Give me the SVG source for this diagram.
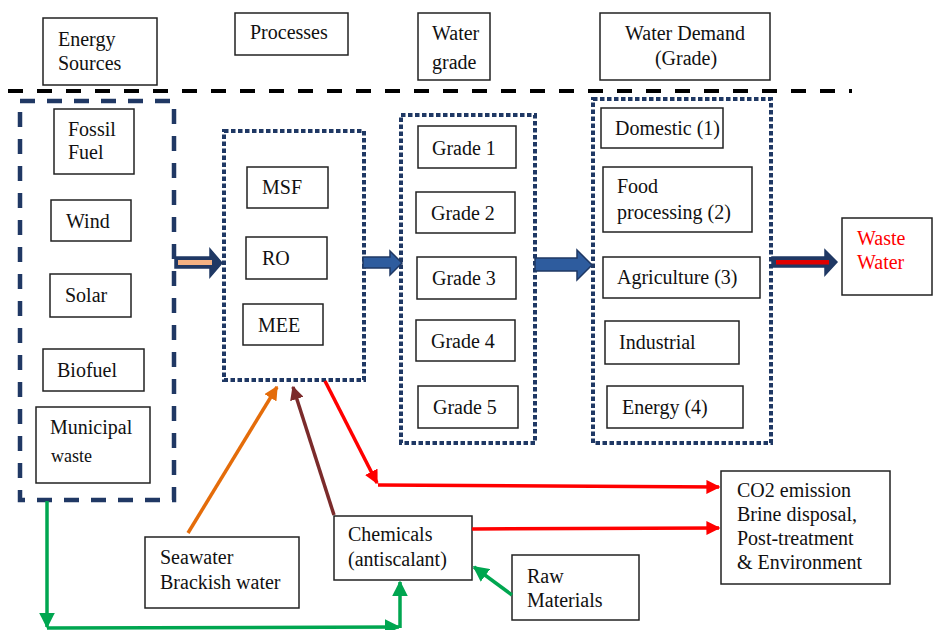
<svg xmlns="http://www.w3.org/2000/svg" width="936" height="630" viewBox="0 0 936 630" font-family="'Liberation Serif', 'Times New Roman', 'DejaVu Serif', serif">
<style>
text{font-family:'Liberation Serif','Times New Roman',Tinos,'DejaVu Serif',serif;font-size:20px;fill:#111}
.b{fill:#fff;stroke:#222;stroke-width:1.5}
.dot{fill:none;stroke:#1F3864;stroke-width:4;stroke-dasharray:4.5 2.5}
.ln{fill:none;stroke-width:3.5}
</style>
<defs>
<marker id="mr" viewBox="0 0 10 10" refX="9" refY="5" markerWidth="4" markerHeight="4" orient="auto"><path d="M0,0 L10,5 L0,10 z" fill="#FF0000"/></marker>
<marker id="mg" viewBox="0 0 10 10" refX="9" refY="5" markerWidth="4.5" markerHeight="4.5" orient="auto"><path d="M0,0 L10,5 L0,10 z" fill="#00A650"/></marker>
<marker id="mo" viewBox="0 0 10 10" refX="9" refY="5" markerWidth="4" markerHeight="4" orient="auto"><path d="M0,0 L10,5 L0,10 z" fill="#E46C0A"/></marker>
<marker id="mb" viewBox="0 0 10 10" refX="9" refY="5" markerWidth="4" markerHeight="4" orient="auto"><path d="M0,0 L10,5 L0,10 z" fill="#7B2B2B"/></marker>
</defs>
<rect width="936" height="630" fill="#fff"/>

<!-- header -->
<g id="h-energy"><rect class="b" x="43" y="18" width="114" height="67"/><text x="58" y="46">Energy</text><text x="58" y="70">Sources</text></g>
<g id="h-processes"><rect class="b" x="235" y="13" width="113" height="42"/><text x="250" y="39">Processes</text></g>
<g id="h-grade"><rect class="b" x="418" y="13" width="72" height="67"/><text x="432" y="40">Water</text><text x="432" y="69">grade</text></g>
<g id="h-demand"><rect class="b" x="600" y="13" width="170" height="67"/><text x="685" y="40" text-anchor="middle">Water Demand</text><text x="686" y="65" text-anchor="middle">(Grade)</text></g>
<line x1="8" y1="91" x2="852" y2="91" stroke="#000" stroke-width="4" stroke-dasharray="15 14"/>

<!-- containers -->
<g id="energy-group"><rect x="20" y="101" width="154" height="399" fill="none" stroke="#203864" stroke-width="4.5" stroke-dasharray="15 12"/></g>
<g id="process-group"><rect class="dot" x="224" y="131" width="140" height="249"/></g>
<g id="grade-group"><rect class="dot" x="401" y="115" width="134" height="328"/></g>
<g id="demand-group"><rect class="dot" x="593" y="99" width="178" height="344"/></g>

<!-- energy sources -->
<g id="fossil"><rect class="b" x="54" y="109" width="80" height="65"/><text x="68" y="136">Fossil</text><text x="68" y="159">Fuel</text></g>
<g id="wind"><rect class="b" x="51" y="200" width="80" height="41"/><text x="66" y="228">Wind</text></g>
<g id="solar"><rect class="b" x="50" y="274" width="81" height="43"/><text x="65" y="302">Solar</text></g>
<g id="biofuel"><rect class="b" x="43" y="349" width="101" height="42"/><text x="57" y="377">Biofuel</text></g>
<g id="municipal"><rect class="b" x="36" y="407" width="114" height="76"/><text x="50" y="434">Municipal</text><text x="51" y="462" style="font-size:18px">waste</text></g>

<!-- processes -->
<g id="msf"><rect class="b" x="247" y="167" width="81" height="41"/><text x="262" y="194">MSF</text></g>
<g id="ro"><rect class="b" x="246" y="237" width="81" height="42"/><text x="262" y="265">RO</text></g>
<g id="mee"><rect class="b" x="243" y="304" width="80" height="41"/><text x="258" y="332">MEE</text></g>

<!-- grades -->
<g id="grade1"><rect class="b" x="418" y="126" width="98" height="42"/><text x="432" y="155">Grade 1</text></g>
<g id="grade2"><rect class="b" x="416" y="192" width="99" height="41"/><text x="431" y="220">Grade 2</text></g>
<g id="grade3"><rect class="b" x="417" y="257" width="99" height="42"/><text x="432" y="285">Grade 3</text></g>
<g id="grade4"><rect class="b" x="416" y="320" width="99" height="41"/><text x="431" y="348">Grade 4</text></g>
<g id="grade5"><rect class="b" x="418" y="386" width="100" height="42"/><text x="433" y="414">Grade 5</text></g>

<!-- demand -->
<g id="domestic"><rect class="b" x="601" y="108" width="122" height="40"/><text x="615" y="135">Domestic (1)</text></g>
<g id="food"><rect class="b" x="603" y="167" width="149" height="65"/><text x="617" y="193">Food</text><text x="617" y="219">processing (2)</text></g>
<g id="agriculture"><rect class="b" x="603" y="257" width="157" height="41"/><text x="617" y="284">Agriculture (3)</text></g>
<g id="industrial"><rect class="b" x="605" y="321" width="134" height="43"/><text x="619" y="349">Industrial</text></g>
<g id="energy4"><rect class="b" x="607" y="386" width="136" height="42"/><text x="622" y="414">Energy (4)</text></g>

<g id="wastewater"><rect class="b" x="842" y="218" width="90" height="77"/><text x="857" y="245" style="fill:#FF0000">Waste</text><text x="857" y="269" style="fill:#FF0000">Water</text></g>
<g id="co2"><rect class="b" x="721" y="471" width="169" height="113"/><text x="737" y="497">CO2 emission</text><text x="737" y="521">Brine disposal,</text><text x="737" y="545">Post-treatment</text><text x="737" y="569">&amp; Environment</text></g>
<g id="chemicals"><rect class="b" x="334" y="516" width="138" height="64"/><text x="348" y="541">Chemicals</text><text x="348" y="566">(antiscalant)</text></g>
<g id="seawater"><rect class="b" x="145" y="537" width="154" height="71"/><text x="160" y="564">Seawater</text><text x="160" y="589">Brackish water</text></g>
<g id="raw"><rect class="b" x="512" y="555" width="127" height="65"/><text x="527" y="583">Raw</text><text x="527" y="607">Materials</text></g>

<!-- connectors -->
<g id="connectors">
<path d="M175,257 L210,257 L210,249 L222,263 L210,277 L210,268 L175,268 Z" fill="#203864" stroke="#1F3864" stroke-width="1.5"/>
<rect x="178" y="260" width="34" height="5" fill="#F4B183"/>
<path d="M363,257 L390,257 L390,251 L402,263 L390,275 L390,268 L363,268 Z" fill="#2E5C9E" stroke="#1F3864" stroke-width="1.5"/>
<path d="M535,258 L577,258 L577,250 L592,265 L577,280 L577,271 L535,271 Z" fill="#2E5C9E" stroke="#1F3864" stroke-width="1.5"/>
<path d="M772,257 L825,257 L825,250 L837,262 L825,275 L825,267 L772,267 Z" fill="#203864" stroke="#1F3864" stroke-width="1.5"/>
<rect x="776" y="260" width="53" height="4.5" fill="#E00000"/>

<path class="ln" d="M188,533 L277,387" stroke="#E46C0A" marker-end="url(#mo)"/>
<path class="ln" d="M334,515 L293,387" stroke="#7B2B2B" marker-end="url(#mb)"/>
<path class="ln" d="M325,381 L377,483" stroke="#FF0000" marker-end="url(#mr)"/>
<path class="ln" d="M378,485 L719,487" stroke="#FF0000" marker-end="url(#mr)"/>
<path class="ln" d="M472,529 L719,528" stroke="#FF0000" marker-end="url(#mr)"/>
<path class="ln" d="M47,501 L47,627" stroke="#00A650" marker-end="url(#mg)"/>
<path class="ln" d="M47,628 L399,627" stroke="#00A650" marker-end="url(#mg)"/>
<path class="ln" d="M400,628 L400,582" stroke="#00A650" marker-end="url(#mg)"/>
<path class="ln" d="M512,595 L474,567" stroke="#00A650" marker-end="url(#mg)"/>
</g>
</svg>
